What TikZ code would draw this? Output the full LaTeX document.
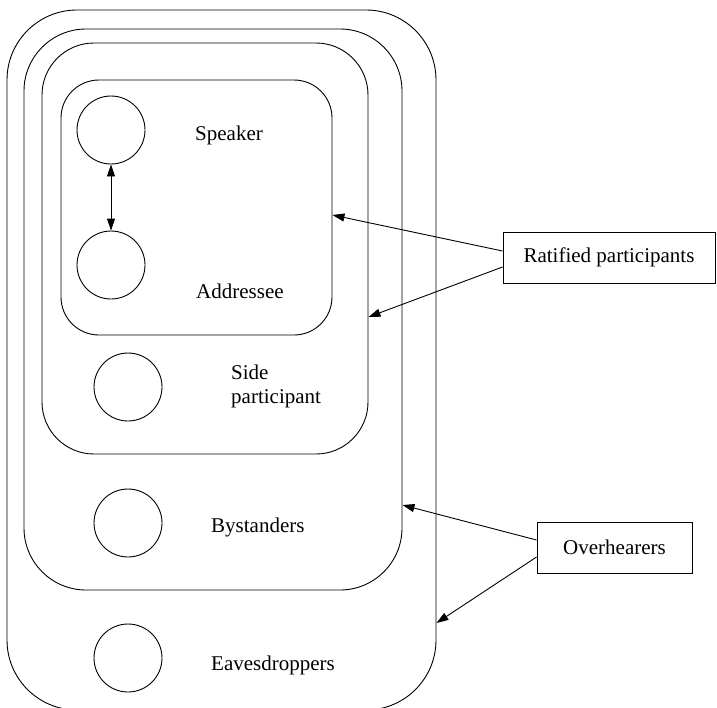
\documentclass[tikz,border=0pt]{standalone}
\usepackage{fontspec}
\setmainfont{Liberation Serif}
\usetikzlibrary{arrows.meta}
\begin{document}
\begin{tikzpicture}[x=1pt,y=-1pt,
  frame/.style={draw, line width=0.9pt, inner sep=0pt},
  person/.style={circle, draw, line width=0.9pt, inner sep=0pt, minimum size=68pt},
  lbl/.style={anchor=base west, inner sep=0pt, font=\fontsize{21}{24}\selectfont, align=left},
  tag/.style={draw, line width=0.9pt, inner sep=0pt, font=\fontsize{21}{24}\selectfont},
  arr/.style={line width=0.9pt, -{Triangle[length=12pt,width=8pt]}},
  dbl/.style={line width=0.9pt, {Triangle[length=12pt,width=8pt]}-{Triangle[length=12pt,width=8pt]}}]
\clip (0,0) rectangle (717,707);

% nested groups
\node[frame, rounded corners=70pt, minimum width=429pt, minimum height=700pt] (overhear) at (221.5,360) {};
\node[frame, rounded corners=62pt, minimum width=378pt, minimum height=561pt] (bystand) at (213,309.5) {};
\node[frame, rounded corners=52pt, minimum width=326pt, minimum height=411pt] (side) at (205,248.5) {};
\node[frame, rounded corners=38pt, minimum width=271pt, minimum height=255pt] (core) at (196.5,207.5) {};

% participants
\node[person] (spk) at (111,130) {};
\node[person] (adr) at (111,265) {};
\node[person] (sdp) at (128,387) {};
\node[person] (bys) at (128,523) {};
\node[person] (eav) at (128,658) {};
\draw[dbl] (spk) -- (adr);

% labels (base anchor of the two-line label sits on its last line)
\node[lbl] (tspk) at (195,140) {Speaker};
\node[lbl] (tadr) at (196,298) {Addressee};
\node[lbl] (tsdp) at (231,403) {Side\\participant};
\node[lbl] (tbys) at (211,532) {Bystanders};
\node[lbl] (teav) at (211,670) {Eavesdroppers};

% category boxes
\node[tag, minimum width=212pt, minimum height=51pt] (rat) at (609,257.5) {Ratified participants};
\node[tag, minimum width=155pt, minimum height=51pt] (ovh) at (614.5,547.5) {Overhearers};

\draw[arr] (rat.west |- 0,251) -- (core.east |- 0,215);
\draw[arr] (rat.west |- 0,267) -- (side.east |- 0,317);
\draw[arr] (ovh.west |- 0,540) -- (bystand.east |- 0,505);
\draw[arr] (ovh.west |- 0,557) -- (overhear.east |- 0,623);
\end{tikzpicture}
\end{document}
